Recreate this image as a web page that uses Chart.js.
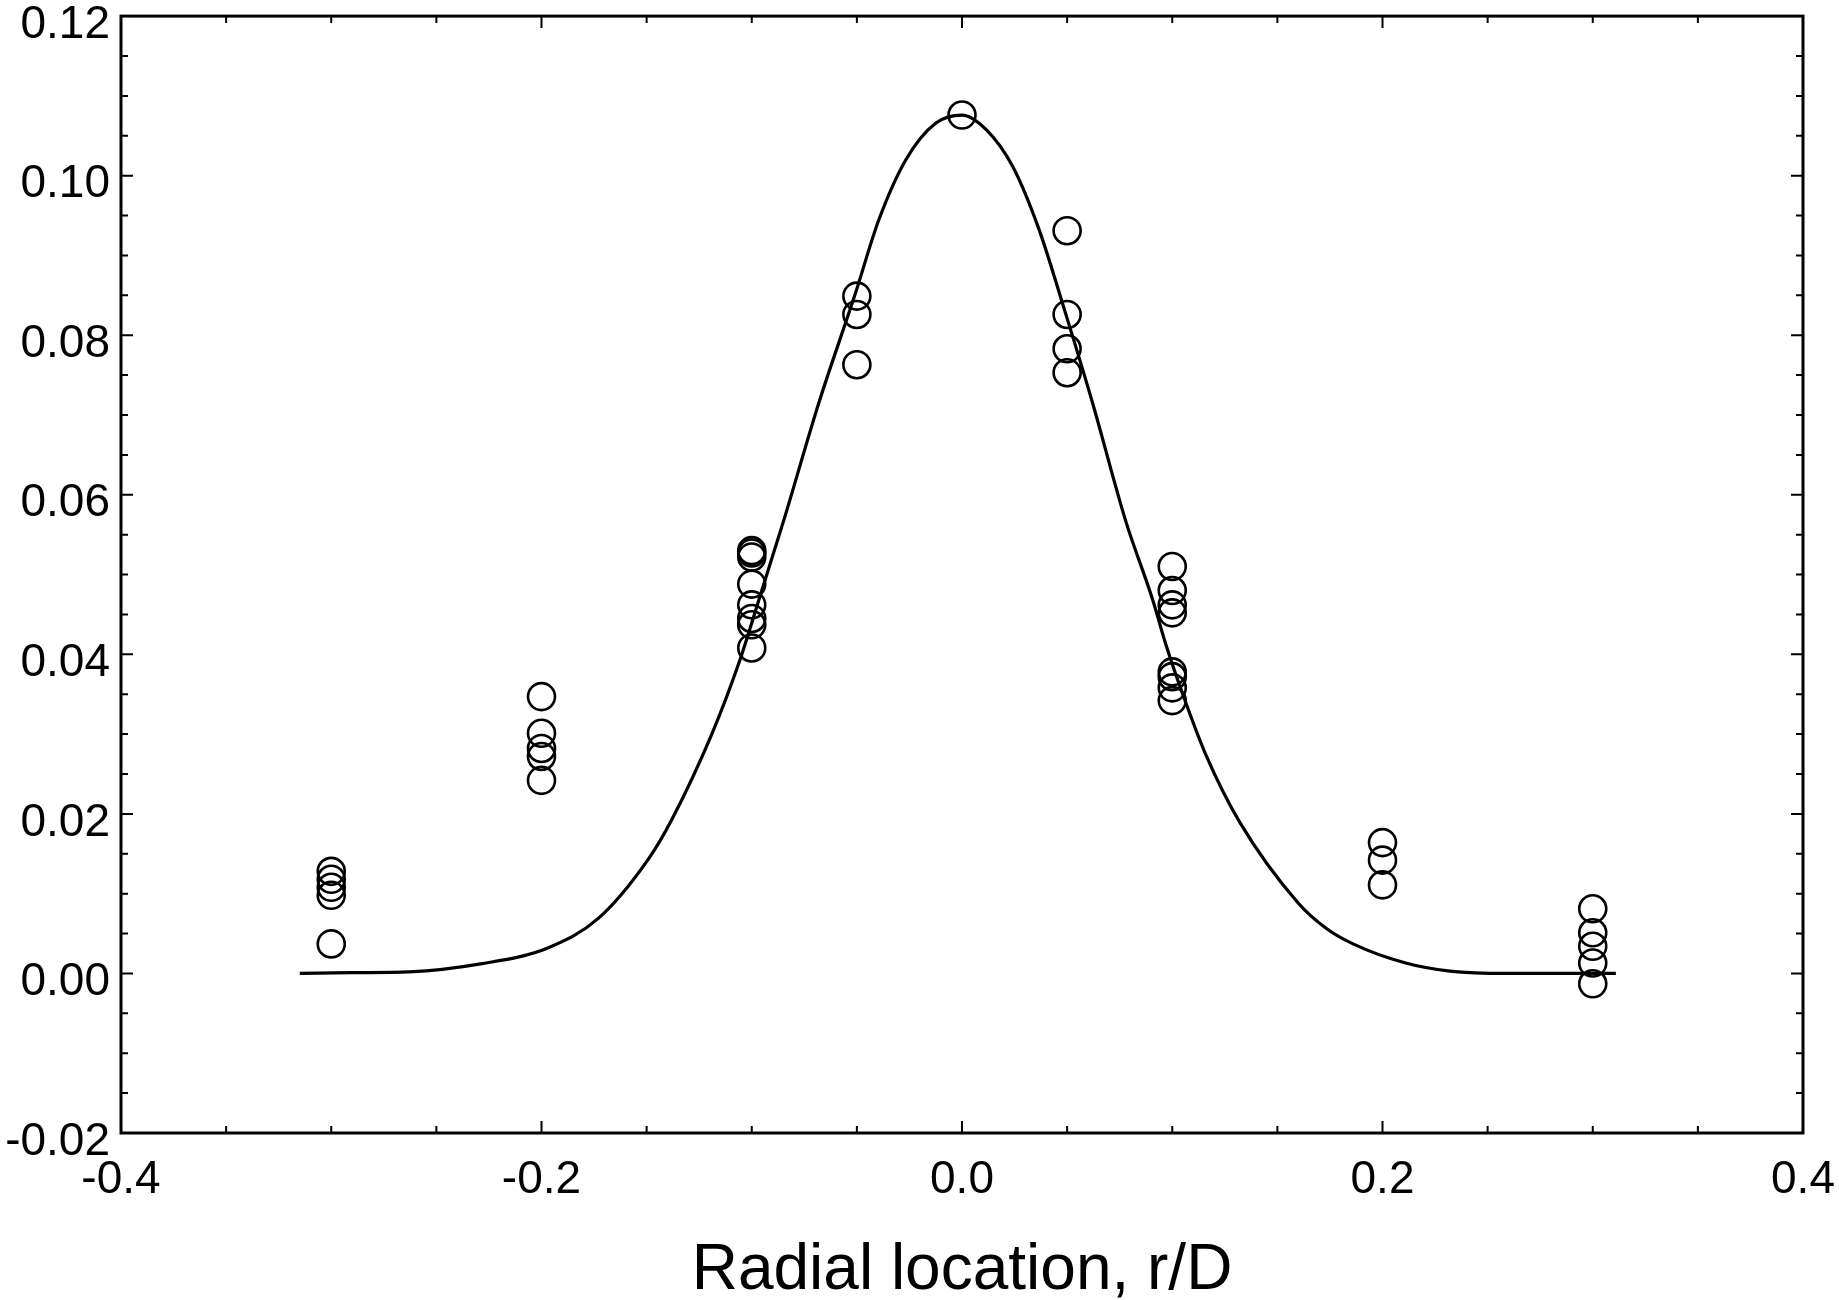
<!DOCTYPE html>
<html>
<head>
<meta charset="utf-8">
<script src="https://cdn.jsdelivr.net/npm/chart.js@4/dist/chart.umd.min.js"></script>
<style>
  html, body { margin: 0; padding: 0; background: #fff; }
</style>
</head>
<body>
<canvas id="chart" width="1839" height="1300"></canvas>
<script>
// measured values, one list per radial station (r/D)
const stations = [-0.3, -0.2, -0.1, -0.05, 0.0, 0.05, 0.1, 0.2, 0.3];
const atM030 = [0.0128, 0.0118, 0.0108, 0.0098, 0.0037];
const atM020 = [0.0347, 0.0301, 0.0282, 0.0272, 0.0242];
const atM010 = [0.0530, 0.0527, 0.0522, 0.0488, 0.0462, 0.0445, 0.0437, 0.0408];
const atM005 = [0.0849, 0.0826, 0.0763];
const atP000 = [0.1076];
const atP005 = [0.0931, 0.0826, 0.0783, 0.0753];
const atP010 = [0.0510, 0.0480, 0.0462, 0.0452, 0.0378, 0.0372, 0.0358, 0.0342];
const atP020 = [0.0164, 0.0142, 0.0111];
const atP030 = [0.0081, 0.0051, 0.0034, 0.0013, -0.0013];
const measured = [atM030, atM020, atM010, atM005, atP000, atP005, atP010, atP020, atP030];

// fitted profile
const fitX = [-0.315, -0.29, -0.263, -0.229, -0.197, -0.173, -0.149, -0.138, -0.119, -0.106, -0.095,
  -0.085, -0.068, -0.051, -0.0395, -0.0267, -0.0124, 0, 0.0114, 0.024, 0.0367, 0.0486, 0.062,
  0.078, 0.0905, 0.097, 0.105, 0.116, 0.132, 0.160, 0.173, 0.186, 0.211, 0.232, 0.259, 0.285, 0.311];
const fitY = [0.0, 0.0001, 0.0002, 0.0012, 0.0032, 0.0069, 0.0144, 0.0193, 0.030, 0.039, 0.0482,
  0.0566, 0.0716, 0.085, 0.0945, 0.102, 0.1066, 0.1076, 0.1058, 0.1012, 0.0932, 0.0833, 0.0716,
  0.0566, 0.047, 0.0412, 0.035, 0.0274, 0.019, 0.0088, 0.0057, 0.0037, 0.0013, 0.0003, 0.0, 0.0, 0.0];

const xTicks = [-0.4, -0.2, 0.0, 0.2, 0.4];
const yTicks = [-0.02, 0.0, 0.02, 0.04, 0.06, 0.08, 0.10, 0.12];

const pointData = [];
stations.forEach((x, i) => measured[i].forEach(y => pointData.push({ x: x, y: y })));
const fitData = fitX.map((x, i) => ({ x: x, y: fitY[i] }));

const font = "'Liberation Sans', Arial, Helvetica, sans-serif";

// box frame with inward ticks on all four sides
const frame = {
  id: "frame",
  afterDatasetsDraw(chart) {
    const { ctx, chartArea: a, scales: { x, y } } = chart;
    ctx.save();
    ctx.strokeStyle = "#000";
    ctx.lineWidth = 3;
    ctx.strokeRect(a.left, a.top, a.right - a.left, a.bottom - a.top);
    ctx.lineWidth = 2;
    ctx.beginPath();
    for (let k = -8; k <= 8; k++) {
      const px = x.getPixelForValue(k * 0.05);
      const len = k % 4 === 0 ? 12 : 7;
      ctx.moveTo(px, a.bottom); ctx.lineTo(px, a.bottom - len);
      ctx.moveTo(px, a.top); ctx.lineTo(px, a.top + len);
    }
    for (let k = -4; k <= 24; k++) {
      const py = y.getPixelForValue(k * 0.005);
      const len = k % 4 === 0 ? 12 : 7;
      ctx.moveTo(a.left, py); ctx.lineTo(a.left + len, py);
      ctx.moveTo(a.right, py); ctx.lineTo(a.right - len, py);
    }
    ctx.stroke();
    ctx.restore();
  }
};

// keep the plot box where the reference has it, labels may overhang
const noPad = s => {
  s.paddingLeft = 0; s.paddingRight = 0; s.paddingTop = 0; s.paddingBottom = 0;
};

new Chart(document.getElementById("chart"), {
  type: "scatter",
  data: {
    datasets: [
      {
        label: "fit",
        type: "line",
        data: fitData,
        borderColor: "#000",
        borderWidth: 3.2,
        pointRadius: 0,
        fill: false,
        cubicInterpolationMode: "monotone"
      },
      {
        label: "measured",
        data: pointData,
        showLine: false,
        pointStyle: "circle",
        pointRadius: 13.5,
        borderWidth: 2.6,
        borderColor: "#000",
        backgroundColor: "rgba(0,0,0,0)"
      }
    ]
  },
  options: {
    responsive: false,
    animation: false,
    devicePixelRatio: 1,
    layout: { padding: { top: 14, right: 36, left: 0, bottom: 0 } },
    plugins: { legend: { display: false }, tooltip: { enabled: false } },
    scales: {
      x: {
        type: "linear",
        min: -0.4,
        max: 0.4,
        afterFit: s => { s.height = 167; noPad(s); },
        afterBuildTicks: s => { s.ticks = xTicks.map(v => ({ value: v })); },
        grid: { display: false, drawTicks: false },
        border: { display: false },
        ticks: {
          color: "#000",
          padding: 20,
          font: { family: font, size: 46 },
          callback: v => v.toFixed(1)
        },
        title: {
          display: true,
          text: "Radial location, r/D",
          color: "#000",
          font: { family: font, size: 64, lineHeight: 0.9 },
          padding: { top: 0, bottom: 0 }
        }
      },
      y: {
        type: "linear",
        min: -0.02,
        max: 0.12,
        afterFit: s => { s.width = 121; noPad(s); },
        afterBuildTicks: s => { s.ticks = yTicks.map(v => ({ value: v })); },
        grid: { display: false, drawTicks: false },
        border: { display: false },
        ticks: {
          color: "#000",
          padding: 11,
          labelOffset: 9,
          font: { family: font, size: 46 },
          callback: v => v.toFixed(2)
        }
      }
    }
  },
  plugins: [frame]
});
</script>
</body>
</html>
